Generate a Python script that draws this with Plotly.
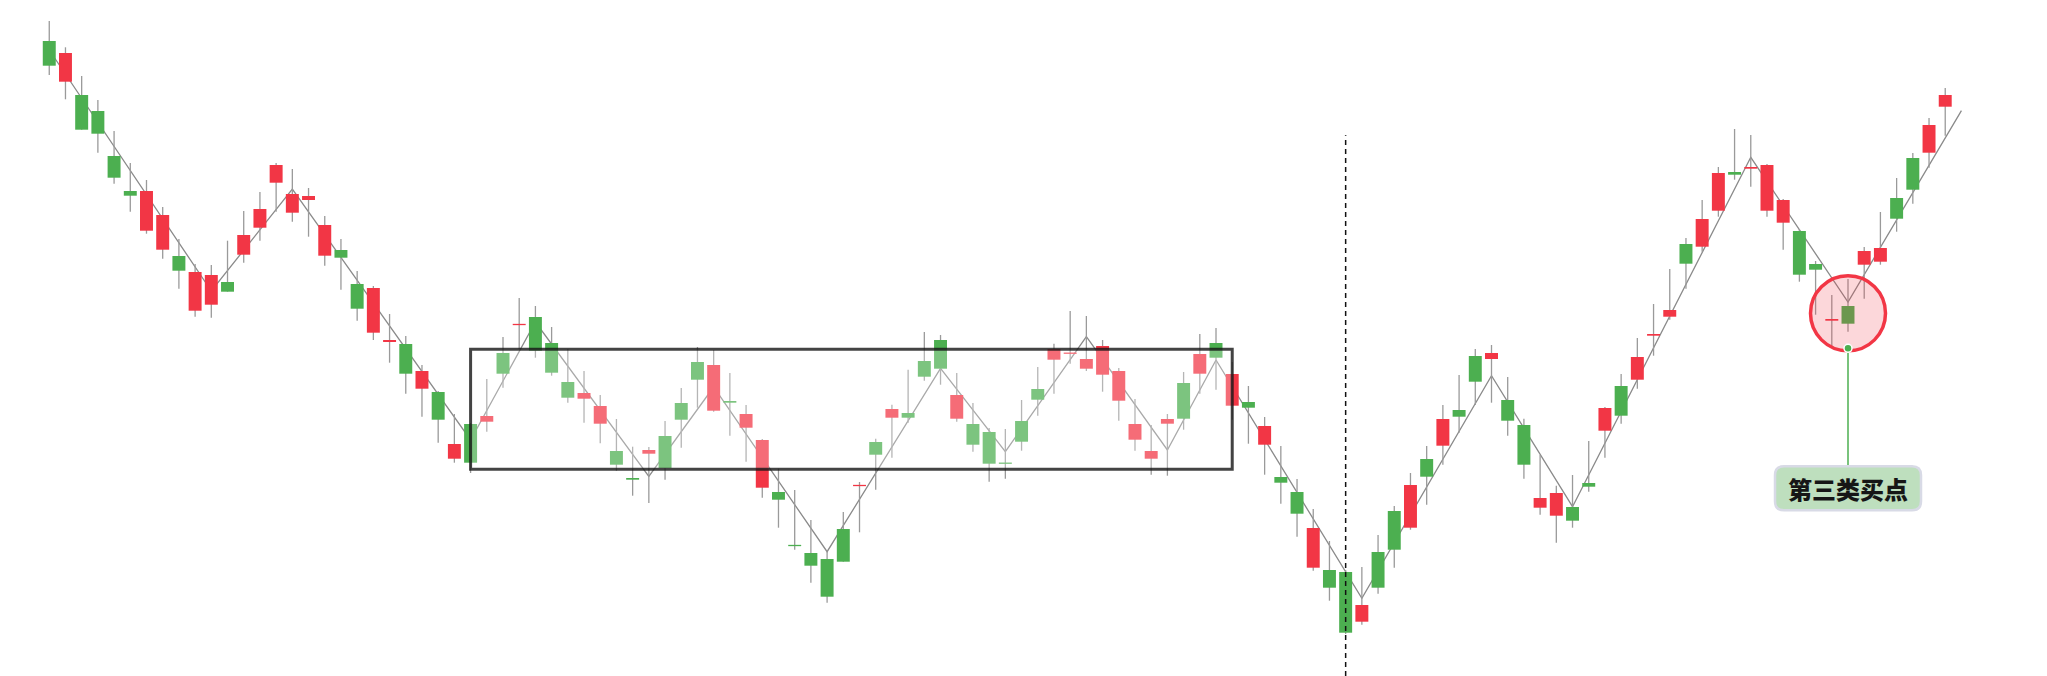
import plotly.graph_objects as go

# ---------------- data ----------------
opens = [63.5, 59.43, 58.1, 56.5, 52.0, 48.5, 44.53, 42.63, 42.0, 36.53,
         37.13, 39.4, 42.13, 44.83, 49.33, 46.33, 47.6, 42.03, 42.6, 39.2,
         34.33, 33.4, 33.2, 28.73, 28.4, 21.73, 25.2, 25.43, 32.3, 35.1,
         35.9, 33.3, 29.4, 27.73, 25.23, 22.5, 19.8, 22.23, 24.0, 27.3,
         31.4, 26.53, 27.5, 24.83, 18.83, 18.4, 13.1, 12.3, 11.7, 14.7,
         19.0, 23.4, 25.83, 26.3, 31.5, 33.6, 25.73, 25.2, 24.4, 21.33,
         25.5, 28.7, 31.63, 32.23, 30.73, 30.13, 27.53, 23.63, 21.73, 25.23,
         29.3, 30.23, 33.3, 27.03, 27.4, 23.13, 19.9, 18.4, 10.83, 10.6,
         10.4, 5.43, 12.4, 16.5, 14.83, 21.7, 23.03, 26.6, 32.0, 31.7,
         27.6, 25.1, 16.83, 16.03, 16.9, 19.3, 24.53, 29.0, 29.63, 34.03,
         35.93, 43.2, 42.93, 46.53, 50.4, 50.73, 46.53, 45.33, 44.5, 41.2,
         35.53, 37.0, 41.13, 41.43, 47.8, 51.8, 52.33, 56.93]
highs = [65.5, 62.87, 60.0, 57.6, 54.5, 51.3, 49.6, 46.9, 43.7, 41.2,
         41.1, 43.53, 46.5, 48.4, 51.3, 50.7, 48.8, 46.0, 43.7, 40.5,
         39.0, 36.2, 34.0, 31.1, 28.5, 26.2, 25.3, 29.7, 33.9, 37.8,
         37.0, 34.9, 32.7, 30.5, 28.1, 25.7, 22.93, 22.9, 25.5, 28.8,
         32.9, 32.6, 30.3, 27.1, 23.7, 20.75, 18.6, 15.6, 12.43, 16.4,
         19.4, 23.73, 27.13, 30.63, 34.4, 34.1, 30.3, 27.3, 24.8, 24.7,
         27.6, 30.9, 33.23, 36.5, 36.0, 33.6, 30.8, 27.7, 25.1, 26.2,
         30.4, 34.2, 34.8, 31.4, 29.0, 25.9, 23.0, 19.7, 16.7, 13.5,
         10.6, 10.9, 14.1, 17.0, 20.3, 23.0, 27.1, 30.1, 32.7, 33.1,
         29.9, 25.73, 22.1, 19.03, 20.1, 23.5, 26.9, 30.2, 33.8, 37.2,
         40.7, 43.8, 47.6, 50.9, 54.7, 54.1, 51.2, 47.7, 44.7, 41.5,
         38.1, 39.7, 42.9, 46.4, 49.8, 52.3, 55.8, 58.8]
lows = [60.1, 57.67, 54.63, 52.33, 49.23, 46.43, 44.23, 41.73, 38.73, 35.93,
        35.83, 38.43, 41.33, 43.53, 46.43, 45.43, 43.93, 41.03, 38.63, 35.53,
        33.6, 31.33, 28.23, 25.93, 23.33, 21.33, 20.3, 24.43, 28.83, 32.7,
        31.83, 30.03, 27.33, 25.33, 23.27, 20.53, 18.03, 17.3, 19.63, 22.83,
        26.83, 26.43, 24.03, 21.43, 17.83, 14.83, 12.63, 9.33, 7.33, 11.43,
        14.37, 18.63, 21.83, 25.33, 29.53, 29.13, 25.43, 22.43, 19.43, 19.73,
        22.53, 26.03, 28.23, 31.23, 30.5, 28.43, 25.53, 22.53, 20.13, 20.03,
        24.63, 28.23, 28.63, 25.63, 23.23, 20.13, 17.23, 13.93, 10.53, 7.53,
        4.2, 5.13, 8.23, 10.83, 14.63, 17.13, 21.13, 24.33, 27.1, 27.33,
        24.03, 19.73, 16.13, 13.33, 14.83, 18.43, 21.83, 25.23, 28.73, 32.03,
        35.63, 38.73, 42.43, 45.93, 49.63, 48.93, 45.93, 42.63, 39.43, 36.13,
        32.93, 34.43, 37.73, 41.13, 44.43, 47.23, 50.83, 54.03]
closes = [61.03, 62.3, 54.63, 54.23, 49.83, 48.03, 48.5, 46.1, 40.53, 40.4,
          40.1, 38.43, 44.1, 46.7, 51.1, 48.2, 48.0, 45.1, 41.83, 36.73,
          38.8, 33.6, 30.23, 30.5, 25.63, 23.2, 21.33, 26.0, 30.23, 35.2,
          32.53, 30.33, 27.83, 28.3, 27.0, 21.13, 19.63, 22.6, 20.8, 25.63,
          29.63, 31.1, 27.33, 26.2, 23.6, 17.63, 13.0, 11.03, 7.93, 11.43,
          19.1, 22.13, 26.7, 25.83, 29.93, 30.73, 28.1, 23.13, 21.23, 21.23,
          23.43, 27.63, 32.7, 32.33, 31.7, 33.0, 30.5, 25.2, 22.5, 25.7,
          25.73, 32.2, 31.83, 30.2, 26.83, 25.0, 19.33, 16.23, 14.8, 8.83,
          4.33, 7.1, 8.83, 12.63, 19.1, 19.93, 25.7, 25.93, 29.43, 32.3,
          25.53, 21.13, 17.8, 18.3, 15.53, 18.93, 26.8, 26.03, 31.9, 34.2,
          36.6, 41.23, 45.7, 50.3, 50.13, 50.9, 51.1, 47.6, 40.13, 40.63,
          35.7, 35.23, 42.5, 42.8, 45.73, 48.63, 55.1, 58.1]

# stroke (bi) line: pivot bar index and price
pivot_idx = [0, 10, 15, 26, 30, 37, 41, 48, 55, 59, 64, 69, 72, 81, 89, 94, 105, 111, 118]
pivot_val = [62.6, 38.5, 48.7, 23.6, 35.4, 19.95, 28.9, 12.43, 30.77, 22.43,
             33.93, 22.6, 31.6, 7.77, 30.03, 16.93, 51.87, 37.4, 56.53]

# central pivot zone (zhongshu)
zone_start, zone_end = 26, 73
zone_low, zone_high = 20.67, 32.67

signal_idx = 80      # dashed marker line
buy_idx = 111        # third-class buy point
buy_label = "第三类买点"

# ---------------- styling ----------------
UP = "#f23645"
DOWN = "#4caf50"
W, H = 2047, 676
x_range = [-3.04, 123.28]
y_range = [0.0, 67.6]
px_per_y = H / (y_range[1] - y_range[0])
px_per_x = W / (x_range[1] - x_range[0])
body_w = 0.8 * px_per_x
min_body = 1.3 / px_per_y

n = len(opens)
idx = list(range(n))

wx, wy = [], []
for i in idx:
    wx += [i, i, None]
    wy += [lows[i], highs[i], None]

def bodies(up):
    bx, by = [], []
    for i in idx:
        o, c = opens[i], closes[i]
        if (c >= o) != up:
            continue
        lo, hi = min(o, c), max(o, c)
        if hi - lo < min_body:
            mid = (hi + lo) / 2
            lo, hi = mid - min_body / 2, mid + min_body / 2
        bx += [i, i, None]
        by += [lo, hi, None]
    return bx, by

fig = go.Figure()
fig.add_trace(go.Scatter(x=pivot_idx, y=pivot_val, mode="lines",
                         line=dict(color="#8a8a8a", width=1.3), hoverinfo="skip"))
fig.add_trace(go.Scatter(x=wx, y=wy, mode="lines",
                         line=dict(color="#9a9a9a", width=1.3), hoverinfo="skip"))
for up, col in [(True, UP), (False, DOWN)]:
    bx, by = bodies(up)
    fig.add_trace(go.Scatter(x=bx, y=by, mode="lines",
                             line=dict(color=col, width=body_w), hoverinfo="skip"))

# zone box
fig.add_shape(type="rect", xref="x", yref="y", x0=zone_start, x1=zone_end,
              y0=zone_low, y1=zone_high, layer="above",
              fillcolor="rgba(255,255,255,0.27)",
              line=dict(color="rgba(20,20,20,0.8)", width=3))

# dashed signal line
fig.add_shape(type="line", xref="x", yref="paper", x0=signal_idx, x1=signal_idx,
              y0=0, y1=0.8, layer="above",
              line=dict(color="#111111", width=1.5, dash="5px,4px"))

# circle around buy point
cy = (opens[buy_idx] + closes[buy_idx]) / 2 + 0.15
R = 37.5
fig.add_shape(type="circle", xref="x", yref="y", xsizemode="pixel", ysizemode="pixel",
              xanchor=buy_idx, yanchor=cy, x0=-R, x1=R, y0=-R, y1=R, layer="above",
              fillcolor="rgba(242,54,69,0.2)", line=dict(color="#f23645", width=3.5))

dot_y = cy - (R - 2.5) / px_per_y
off = 140
bw, bh, rr = 73, 22, 9
path = (f"M {-bw + rr},{-off + bh} L {bw - rr},{-off + bh} Q {bw},{-off + bh} {bw},{-off + bh - rr} "
        f"L {bw},{-off - bh + rr} Q {bw},{-off - bh} {bw - rr},{-off - bh} "
        f"L {-bw + rr},{-off - bh} Q {-bw},{-off - bh} {-bw},{-off - bh + rr} "
        f"L {-bw},{-off + bh - rr} Q {-bw},{-off + bh} {-bw + rr},{-off + bh} Z")
fig.add_shape(type="line", xref="x", yref="y", xsizemode="pixel", ysizemode="pixel",
              xanchor=buy_idx, yanchor=dot_y, x0=0, x1=0, y0=0, y1=-off + bh, layer="above",
              line=dict(color="#4caf50", width=1.5))
fig.add_shape(type="path", xref="x", yref="y", xsizemode="pixel", ysizemode="pixel",
              xanchor=buy_idx, yanchor=dot_y, path=path, layer="above",
              fillcolor="#bedfbe", line=dict(color="#d8dae6", width=2.5))
fig.add_shape(type="circle", xref="x", yref="y", xsizemode="pixel", ysizemode="pixel",
              xanchor=buy_idx, yanchor=dot_y, x0=-4, x1=4, y0=-4, y1=4, layer="above",
              fillcolor="#4caf50", line=dict(color="white", width=1.5))

fig.add_annotation(x=buy_idx, y=dot_y, xref="x", yref="y", text=buy_label,
                   showarrow=True, arrowcolor="rgba(0,0,0,0)", ax=0, ay=off,
                   font=dict(family="Noto Sans CJK SC", size=24, color="#161616", weight=900),
                   bgcolor="rgba(0,0,0,0)")

fig.update_layout(
    width=W, height=H, margin=dict(l=0, r=0, t=0, b=0),
    paper_bgcolor="white", plot_bgcolor="white",
    showlegend=False, hovermode=False,
    xaxis=dict(range=x_range, visible=False, showgrid=False, zeroline=False),
    yaxis=dict(range=y_range, visible=False, showgrid=False, zeroline=False),
)

fig.write_html("out.html", config={"displayModeBar": False},
               post_script="document.body.style.margin='0';document.body.style.overflow='hidden';")
